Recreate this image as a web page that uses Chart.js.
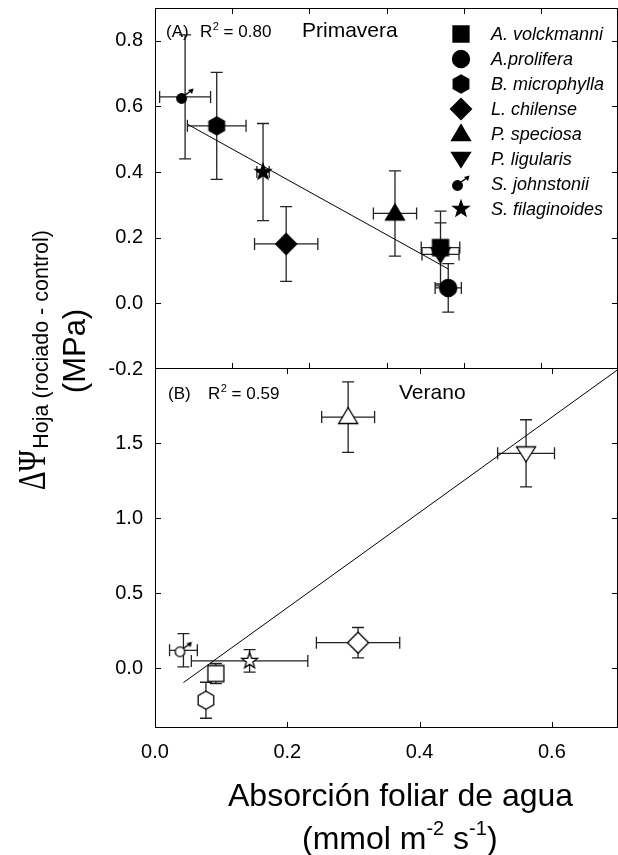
<!DOCTYPE html>
<html>
<head>
<meta charset="utf-8">
<title>Absorción foliar de agua y ΔΨ hoja</title>
<script src="https://cdn.jsdelivr.net/npm/chart.js@4.4.1/dist/chart.umd.min.js"></script>
<style>
  html, body { margin: 0; padding: 0; background: #fff; }
  #page { position: relative; width: 618px; height: 855px; overflow: hidden; font-family: 'Liberation Sans', Arial, sans-serif; color: #000; }
  .panel { position: absolute; left: 0; }
  #panelA { top: 0; }
  #panelB { top: 350px; }
  .rot { position: absolute; white-space: nowrap; line-height: 1; transform: translate(-50%, -50%) rotate(-90deg); }
  .dp { display: inline-block; transform: scaleX(0.72); transform-origin: 0 0; margin-right: -14px; }
  .sub { font-family: 'Liberation Sans', Arial, sans-serif; font-size: 21.5px; position: relative; top: 3px; }
  .xt { position: absolute; white-space: nowrap; line-height: 1; font-size: 32px; }
  .xt sup { font-size: 20px; vertical-align: 0; position: relative; top: -14px; line-height: 0; }
</style>
</head>
<body>
<div id="page">
  <div class="panel" id="panelA"><canvas id="chartA" width="618" height="390"></canvas></div>
  <div class="panel" id="panelB"><canvas id="chartB" width="618" height="430"></canvas></div>
  <div class="rot" style="left:31.5px; top:360px; font-family:'Liberation Serif', serif; font-size:40px;"><span class="dp">ΔΨ</span><span class="sub">Hoja (rociado - control)</span></div>
  <div class="rot" style="left:74.3px; top:350.5px; font-size:31px;">(MPa)</div>
  <div class="xt" style="left:228px; top:779px;">Absorción foliar de agua</div>
  <div class="xt" style="left:302px; top:822px;">(mmol m<sup>-2</sup> s<sup>-1</sup>)</div>
</div>
<script>
const FONT = "'Liberation Sans', Arial, sans-serif";
Chart.defaults.font.family = FONT;
Chart.defaults.color = '#000';

const species = ['A. volckmanni', 'A.prolifera', 'B. microphylla', 'L. chilense',
  'P. speciosa', 'P. ligularis', 'S. johnstonii', 'S. filaginoides'];
const shapes = ['square', 'circle', 'hexagon', 'diamond', 'triangle', 'triangleDown', 'male', 'star'];

// (A) Primavera
const springX    = [0.370, 0.380, 0.080, 0.170, 0.311, 0.370, 0.039, 0.140];
const springY    = [0.170, 0.047, 0.541, 0.181, 0.274, 0.149, 0.629, 0.400];
const springXErr = [0.025, 0.017, 0.038, 0.041, 0.028, 0.024, 0.033, 0.008];
const springYErr = [0.111, 0.074, 0.163, 0.114, 0.130, 0.096, 0.189, 0.148];
const springFitX = [0.042, 0.380];
const springFitY = [0.546, 0.105];
const springR2 = '0.80';

// (B) Verano (no A.prolifera)
const summerX    = [0.092, null, 0.077, 0.307, 0.292, 0.561, 0.043, 0.143];
const summerY    = [-0.037, null, -0.215, 0.169, 1.673, 1.431, 0.118, 0.047];
const summerXErr = [0, null, 0, 0.063, 0.040, 0.043, 0.021, 0.088];
const summerYErr = [0.067, null, 0.120, 0.101, 0.235, 0.224, 0.111, 0.075];
const summerFitX = [0.043, 0.700];
const summerFitY = [-0.097, 1.990];
const summerR2 = '0.59';

// tick marks / labels
const springXTicks = [0.1, 0.2, 0.3, 0.4, 0.5];
const springYTicks = [-0.2, 0.0, 0.2, 0.4, 0.6, 0.8];
const summerXTicks = [0.0, 0.2, 0.4, 0.6];
const summerYTicks = [0.0, 0.5, 1.0, 1.5];

// marker glyphs drawn once on small canvases
function makeMarker(shape, filled) {
  const size = 30;
  const c = document.createElement('canvas');
  c.width = size;
  c.height = size;
  const g = c.getContext('2d');
  const m = size / 2;
  g.lineWidth = 1.3;
  g.strokeStyle = '#000';
  g.fillStyle = filled ? '#000' : '#fff';
  g.beginPath();
  if (shape === 'square') {
    g.rect(m - 8, m - 8, 16, 16);
  } else if (shape === 'circle') {
    g.arc(m, m, 8.5, 0, 2 * Math.PI);
  } else if (shape === 'hexagon') {
    for (let k = 0; k < 6; k++) {
      const a = Math.PI / 2 + k * Math.PI / 3;
      g.lineTo(m + 9 * Math.cos(a), m - 9 * Math.sin(a));
    }
    g.closePath();
  } else if (shape === 'diamond') {
    g.moveTo(m, m - 10.5); g.lineTo(m + 10.5, m); g.lineTo(m, m + 10.5); g.lineTo(m - 10.5, m);
    g.closePath();
  } else if (shape === 'triangle') {
    g.moveTo(m, m - 9.5); g.lineTo(m + 9.5, m + 6.5); g.lineTo(m - 9.5, m + 6.5);
    g.closePath();
  } else if (shape === 'triangleDown') {
    g.moveTo(m, m + 8.5); g.lineTo(m + 9.5, m - 6.5); g.lineTo(m - 9.5, m - 6.5);
    g.closePath();
  } else if (shape === 'star') {
    for (let k = 0; k < 10; k++) {
      const r = k % 2 ? 3.4 : 8.3;
      const a = -Math.PI / 2 + k * Math.PI / 5;
      g.lineTo(m + r * Math.cos(a), m + r * Math.sin(a));
    }
    g.closePath();
  } else if (shape === 'male') {
    g.arc(m - 3.5, m + 1.5, 4.8, 0, 2 * Math.PI);
  }
  g.fill();
  g.stroke();
  if (shape === 'male') {
    // little arrow leaving the circle to the upper right
    const x1 = m + 8.5, y1 = m - 8.5;
    g.beginPath();
    g.moveTo(m - 0.1, m - 1.9);
    g.lineTo(x1 - 2, y1 + 2);
    g.stroke();
    g.fillStyle = '#000';
    g.beginPath();
    g.moveTo(x1, y1); g.lineTo(x1 - 5.5, y1 + 1.5); g.lineTo(x1 - 1.5, y1 + 5.5);
    g.closePath();
    g.fill();
  }
  return c;
}

const solidMarkers = shapes.map(s => makeMarker(s, true));
const openMarkers = shapes.map(s => makeMarker(s, false));

function speciesSets(xs, ys, ex, ey, markers) {
  const sets = [];
  species.forEach((name, i) => {
    if (xs[i] === null) return;
    sets.push({
      label: name,
      data: [{ x: xs[i], y: ys[i] }],
      pointStyle: markers[i],
      pointRadius: 10,
      pointHoverRadius: 10,
      errX: ex[i],
      errY: ey[i]
    });
  });
  return sets;
}

function fitSet(xs, ys) {
  return {
    label: 'fit',
    data: xs.map((x, i) => ({ x, y: ys[i] })),
    showLine: true,
    pointRadius: 0,
    borderColor: '#000',
    borderWidth: 1,
    order: 1
  };
}

// error bars with caps, drawn under the markers
const errorBars = {
  id: 'errorBars',
  beforeDatasetsDraw(chart) {
    const { ctx } = chart;
    const xs = chart.scales.x, ys = chart.scales.y;
    const cap = 6;
    ctx.save();
    ctx.strokeStyle = '#222';
    ctx.lineWidth = 1.3;
    ctx.beginPath();
    chart.data.datasets.forEach(ds => {
      ds.data.forEach(p => {
        const px = xs.getPixelForValue(p.x), py = ys.getPixelForValue(p.y);
        if (ds.errY) {
          const y0 = ys.getPixelForValue(p.y - ds.errY), y1 = ys.getPixelForValue(p.y + ds.errY);
          ctx.moveTo(px, y0); ctx.lineTo(px, y1);
          ctx.moveTo(px - cap, y0); ctx.lineTo(px + cap, y0);
          ctx.moveTo(px - cap, y1); ctx.lineTo(px + cap, y1);
        }
        if (ds.errX) {
          const x0 = xs.getPixelForValue(p.x - ds.errX), x1 = xs.getPixelForValue(p.x + ds.errX);
          ctx.moveTo(x0, py); ctx.lineTo(x1, py);
          ctx.moveTo(x0, py - cap); ctx.lineTo(x0, py + cap);
          ctx.moveTo(x1, py - cap); ctx.lineTo(x1, py + cap);
        }
      });
    });
    ctx.stroke();
    ctx.restore();
  }
};

// box around the panel with inward tick marks on all four sides
const frame = {
  id: 'frame',
  afterDraw(chart) {
    const { ctx, chartArea: a } = chart;
    const xs = chart.scales.x, ys = chart.scales.y;
    const T = 6;
    ctx.save();
    ctx.strokeStyle = '#000';
    ctx.lineWidth = 1;
    ctx.strokeRect(a.left + 0.5, a.top + 0.5, a.right - a.left - 1, a.bottom - a.top - 1);
    ctx.beginPath();
    xs.ticks.forEach(t => {
      if (t.value <= xs.min || t.value >= xs.max) return;
      const x = Math.round(xs.getPixelForValue(t.value)) + 0.5;
      ctx.moveTo(x, a.bottom); ctx.lineTo(x, a.bottom - T);
      ctx.moveTo(x, a.top); ctx.lineTo(x, a.top + T);
    });
    ys.ticks.forEach(t => {
      if (t.value <= ys.min || t.value >= ys.max) return;
      const y = Math.round(ys.getPixelForValue(t.value)) + 0.5;
      ctx.moveTo(a.left, y); ctx.lineTo(a.left + T, y);
      ctx.moveTo(a.right, y); ctx.lineTo(a.right - T, y);
    });
    ctx.stroke();
    ctx.restore();
  }
};

// species key in the upper right of panel A
const legendBox = {
  id: 'legendBox',
  afterDatasetsDraw(chart) {
    const { ctx, chartArea: a } = chart;
    ctx.save();
    ctx.font = 'italic 18px ' + FONT;
    ctx.fillStyle = '#000';
    ctx.textBaseline = 'middle';
    species.forEach((name, i) => {
      const y = a.top + 25.5 + i * 25;
      const mk = solidMarkers[i];
      ctx.drawImage(mk, Math.round(a.right - 157 - mk.width / 2), Math.round(y - mk.height / 2));
      ctx.fillText(name, a.right - 127, y + 1);
    });
    ctx.restore();
  }
};

function panelNotes(tag, r2, season, pos) {
  return {
    id: 'notes',
    afterDraw(chart) {
      const { ctx, chartArea: a } = chart;
      const base = a.top + pos.base;
      ctx.save();
      ctx.fillStyle = '#000';
      ctx.textBaseline = 'alphabetic';
      ctx.font = '17px ' + FONT;
      ctx.fillText(tag, a.left + pos.tag, base);
      let x = a.left + pos.r;
      ctx.fillText('R', x, base);
      x += ctx.measureText('R').width + 0.5;
      ctx.font = '11px ' + FONT;
      ctx.fillText('2', x, base - 7);
      x += ctx.measureText('2').width;
      ctx.font = '17px ' + FONT;
      ctx.fillText(' = ' + r2, x, base);
      ctx.font = '21px ' + FONT;
      ctx.fillText(season, a.left + pos.season, base);
      ctx.restore();
    }
  };
}

const tickFont = { family: FONT, size: 20 };
const noGrid = { display: false, drawTicks: false };
const fmt = v => v.toFixed(1);

function yAxis(min, max, ticks) {
  return {
    min, max,
    grid: noGrid,
    border: { display: false },
    ticks: { font: tickFont, padding: 12, autoSkip: false, callback: fmt },
    afterBuildTicks: s => { s.ticks = ticks.map(v => ({ value: v })); },
    afterFit: s => { s.width = 155; s.paddingTop = 0; s.paddingBottom = 0; }
  };
}

new Chart(document.getElementById('chartA'), {
  type: 'scatter',
  data: {
    datasets: [
      ...speciesSets(springX, springY, springXErr, springYErr, solidMarkers),
      fitSet(springFitX, springFitY)
    ]
  },
  options: {
    responsive: false,
    animation: false,
    events: [],
    layout: { autoPadding: false, padding: { top: 8, bottom: 21, left: 0, right: 0 } },
    plugins: { legend: { display: false }, tooltip: { enabled: false } },
    scales: {
      x: {
        min: 0, max: 0.6,
        grid: noGrid,
        border: { display: false },
        ticks: { display: false },
        afterBuildTicks: s => { s.ticks = springXTicks.map(v => ({ value: v })); },
        afterFit: s => { s.height = 0; s.paddingLeft = 0; s.paddingRight = 0; }
      },
      y: yAxis(-0.2, 0.9, springYTicks)
    }
  },
  plugins: [errorBars, frame, legendBox, panelNotes('(A)', springR2, 'Primavera', { base: 29, tag: 11, r: 45, season: 147 })]
});

new Chart(document.getElementById('chartB'), {
  type: 'scatter',
  data: {
    datasets: [
      ...speciesSets(summerX, summerY, summerXErr, summerYErr, openMarkers),
      fitSet(summerFitX, summerFitY)
    ]
  },
  options: {
    responsive: false,
    animation: false,
    events: [],
    layout: { autoPadding: false, padding: { top: 18, bottom: 0, left: 0, right: 0 } },
    plugins: { legend: { display: false }, tooltip: { enabled: false } },
    scales: {
      x: {
        min: 0, max: 0.7,
        grid: noGrid,
        border: { display: false },
        ticks: { font: tickFont, padding: 12, autoSkip: false, maxRotation: 0, callback: fmt },
        afterBuildTicks: s => { s.ticks = summerXTicks.map(v => ({ value: v })); },
        afterFit: s => { s.height = 52; s.paddingLeft = 0; s.paddingRight = 0; }
      },
      y: yAxis(-0.4, 2.0, summerYTicks)
    }
  },
  plugins: [errorBars, frame, panelNotes('(B)', summerR2, 'Verano', { base: 31, tag: 13, r: 53, season: 244 })]
});
</script>
</body>
</html>
